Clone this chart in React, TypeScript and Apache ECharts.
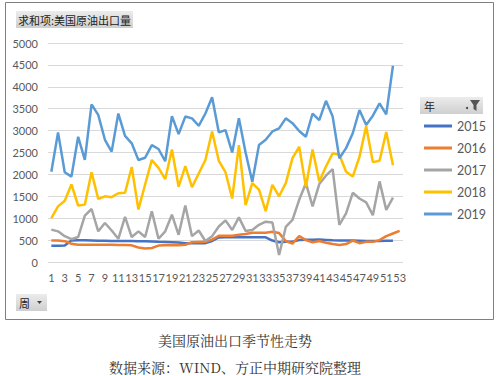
import React, { useEffect, useRef } from "react";
import * as echarts from "echarts";

const weeks: string[] = Array.from({ length: 53 }, (_, i) => String(i + 1));
const yTicks = { min: 0, max: 5000, interval: 500 };

const s2015 = [370,370,375,490,495,495,490,485,485,480,480,480,478,475,475,470,460,455,450,445,430,430,430,430,480,560,565,565,565,565,565,565,565,490,450,465,465,500,510,510,515,505,495,490,490,490,485,480,480,480,485,485];
const s2016 = [490,490,475,415,395,395,395,395,395,395,390,390,380,330,310,320,375,380,380,385,395,450,455,460,510,600,600,600,620,640,670,670,670,690,660,480,420,590,500,450,480,440,410,390,410,490,430,460,460,500,590,650,710];
const s2017 = [740,700,590,520,570,1060,1210,700,890,720,530,1030,570,700,570,1160,530,700,1080,620,1290,590,720,480,590,810,950,730,1020,710,730,850,920,900,160,800,960,1420,1800,1270,1780,1970,2120,850,1110,1580,1450,1360,1070,1840,1190,1470];
const s2018 = [1000,1270,1400,1770,1290,1310,2050,1440,1500,1480,1570,1580,2170,1200,1770,2330,2150,1890,2570,1720,2190,1710,2020,2330,2980,2310,2050,1450,2670,1300,1800,1650,1160,1760,1500,1800,2370,2630,1720,2570,1840,2180,2480,2450,2060,1950,2400,3100,2280,2310,2970,2210];
const s2019 = [2060,2960,2050,1950,2860,2330,3600,3360,2790,2520,3390,2880,2710,2330,2380,2670,2580,2300,3330,2920,3320,3280,3110,3390,3760,2960,3010,2500,3280,2500,1830,2670,2790,2980,3050,3280,3170,2990,2860,3390,3240,3680,3320,2370,2600,2940,3470,3130,3340,3620,3370,4480];

const seriesNames = ["2015", "2016", "2017", "2018", "2019"];
const seriesData = [s2015, s2016, s2017, s2018, s2019];
const seriesColors = ["#4472C4", "#ED7D31", "#A5A5A5", "#FFC000", "#5B9BD5"];

const titleText = "求和项:美国原油出口量";
const captionMain = "美国原油出口季节性走势";
const captionSource = "数据来源：WIND、方正中期研究院整理";

const numFont = "Lato, 'Noto Sans CJK SC', sans-serif";
const cjkFont = "'Noto Sans CJK SC', sans-serif";

const btnFill = {
  type: "linear", x: 0, y: 0, x2: 0, y2: 1,
  colorStops: [{ offset: 0, color: "#ececec" }, { offset: 1, color: "#cfcfcf" }],
};

export default function App() {
  const ref = useRef<HTMLDivElement>(null);
  useEffect(() => {
    if (!ref.current) return;
    const chart = echarts.init(ref.current, null, { renderer: "svg" });
    chart.setOption({
      animation: false,
      backgroundColor: "#ffffff",
      grid: { left: 48, right: 97, top: 43, bottom: 114 },
      legend: {
        orient: "vertical",
        left: 419,
        top: 114,
        icon: "rect",
        itemWidth: 28,
        itemHeight: 3,
        itemGap: 8,
        data: seriesNames,
        textStyle: { color: "#595959", fontSize: 12.5, fontFamily: numFont, lineHeight: 14 },
      },
      xAxis: {
        type: "category",
        data: weeks,
        boundaryGap: true,
        axisLine: { show: false },
        axisTick: { show: false },
        axisLabel: { interval: 1, color: "#595959", fontSize: 11, fontFamily: numFont, margin: 10 },
        splitLine: { show: false },
      },
      yAxis: {
        type: "value",
        min: yTicks.min,
        max: yTicks.max,
        interval: yTicks.interval,
        axisLine: { show: false },
        axisTick: { show: false },
        axisLabel: { color: "#595959", fontSize: 11, fontFamily: numFont, margin: 10, formatter: (v: number) => String(v) },
        splitLine: { lineStyle: { color: "#D9D9D9", width: 1 } },
      },
      series: seriesNames.map((name, k) => ({
        name,
        type: "line",
        data: seriesData[k],
        symbol: "none",
        lineStyle: { color: seriesColors[k], width: 2.5 },
        itemStyle: { color: seriesColors[k] },
      })),
      graphic: [
        { type: "rect", shape: { x: 5.5, y: 2.5, width: 488, height: 317 }, style: { fill: "none", stroke: "#7f7f7f", lineWidth: 1 }, silent: true },
        { type: "rect", shape: { x: 16, y: 11, width: 117, height: 17 }, style: { fill: btnFill as any } },
        { type: "text", x: 18, y: 19.5, style: { text: titleText, fill: "#222", fontSize: 11, fontFamily: cjkFont, verticalAlign: "middle" } },
        { type: "rect", shape: { x: 420, y: 97, width: 63, height: 17 }, style: { fill: btnFill as any } },
        { type: "text", x: 424, y: 105.5, style: { text: "年", fill: "#222", fontSize: 11, fontFamily: cjkFont, verticalAlign: "middle" } },
        { type: "circle", shape: { cx: 467, cy: 108, r: 1 }, style: { fill: "#333" } },
        { type: "polygon", shape: { points: [[470, 100], [480, 100], [476.5, 105], [476.5, 111], [473.5, 109], [473.5, 105]] }, style: { fill: "#555" } },
        { type: "rect", shape: { x: 16, y: 294, width: 31, height: 17 }, style: { fill: btnFill as any } },
        { type: "text", x: 19, y: 302.5, style: { text: "周", fill: "#222", fontSize: 11, fontFamily: cjkFont, verticalAlign: "middle" } },
        { type: "polygon", shape: { points: [[37, 301], [42, 301], [39.5, 304]] }, style: { fill: "#444" } },
        { type: "text", x: 235, y: 340, style: { text: captionMain, fill: "#333", fontSize: 14, fontFamily: "'Noto Serif CJK SC', " + cjkFont, align: "center", verticalAlign: "middle" } },
        { type: "text", x: 235, y: 367, style: { text: captionSource, fill: "#333", fontSize: 14, fontFamily: "'Noto Serif CJK SC', " + cjkFont, align: "center", verticalAlign: "middle" } },
      ],
    });
    return () => chart.dispose();
  }, []);
  return <div ref={ref} style={{ position: "fixed", left: 0, top: 0, width: 500, height: 376 }} />;
}
